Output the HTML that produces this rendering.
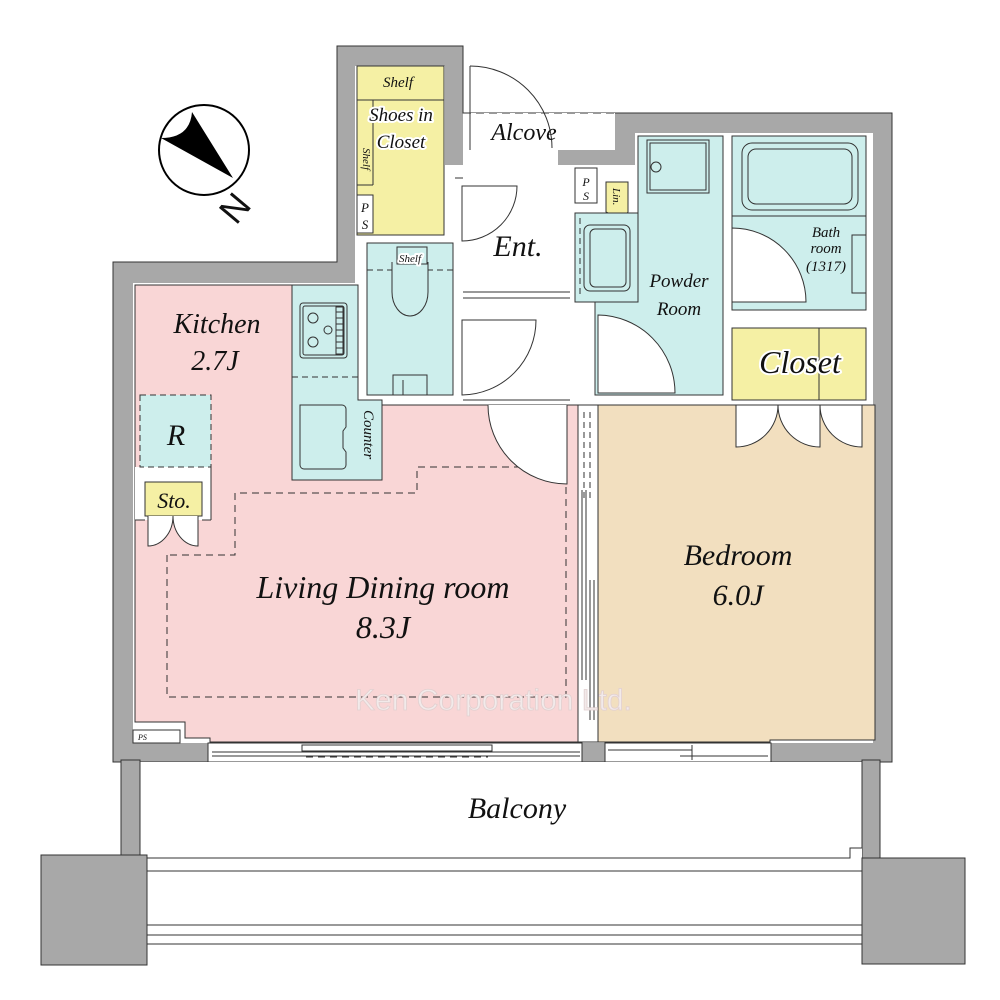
<!DOCTYPE html>
<html><head><meta charset="utf-8"><style>
html,body{margin:0;padding:0;background:#fff;width:1000px;height:1000px;overflow:hidden}
svg{display:block}
text{font-family:"Liberation Serif",serif;font-style:italic;fill:#111}
.h{stroke:#fff;stroke-width:4;paint-order:stroke;stroke-linejoin:round}
</style></head><body>
<svg width="1000" height="1000" viewBox="0 0 1000 1000" xmlns="http://www.w3.org/2000/svg">
<g stroke="#333" stroke-width="1">
<polygon points="337,46 463,46 463,113 615,113 892,113 892,762 113,762 113,262 337,262" fill="#a8a8a8"/>
<g fill="#fff" stroke="none">
<rect x="355" y="66" width="90" height="220"/>
<rect x="355" y="165" width="215" height="240"/>
<rect x="463" y="113" width="152" height="37"/>
<rect x="463" y="150" width="95" height="16"/>
<rect x="635" y="133" width="238" height="272"/>
<rect x="570" y="165" width="66" height="240"/>
<rect x="133" y="283" width="740" height="460"/>
</g>
<line x1="463" y1="113" x2="615" y2="113" stroke-dasharray="8,5"/>
<rect x="208" y="743" width="374" height="19" fill="#fff"/>
<rect x="605" y="743" width="166" height="19" fill="#fff"/>
<line x1="212" y1="752" x2="580" y2="752"/><line x1="212" y1="756" x2="580" y2="756"/>
<rect x="302" y="745" width="190" height="6" fill="#fff"/>
<line x1="306" y1="757" x2="488" y2="757" stroke-dasharray="7,5"/>
<line x1="608" y1="750" x2="692" y2="750"/><line x1="680" y1="756" x2="768" y2="756"/>
<line x1="692" y1="745" x2="692" y2="760"/>
<rect x="121" y="760" width="19" height="96" fill="#a8a8a8"/>
<rect x="862" y="760" width="18" height="100" fill="#a8a8a8"/>
<rect x="140" y="762" width="722" height="96" fill="#fff" stroke="none"/>
<line x1="140" y1="762" x2="140" y2="858"/><line x1="862" y1="762" x2="862" y2="848"/>
<polyline points="147,858 850,858 850,848 862,848" fill="none"/>
<line x1="147" y1="871" x2="862" y2="871"/>
<line x1="147" y1="925" x2="862" y2="925"/>
<line x1="147" y1="935" x2="862" y2="935"/>
<line x1="147" y1="944" x2="862" y2="944"/>
<rect x="41" y="855" width="106" height="110" fill="#a8a8a8"/>
<rect x="862" y="858" width="103" height="106" fill="#a8a8a8"/>

<polygon points="135,285 292,285 292,480 382,480 382,405 578,405 578,742 210,742 210,738 185,738 185,722 135,722" fill="#f9d6d6"/>
<rect x="133" y="730" width="47" height="13" fill="#fff"/>
<polygon points="598,405 875,405 875,740 770,740 770,742 598,742" fill="#f2dfbf"/>
<rect x="578" y="405" width="20" height="337" fill="#fff"/>
<line x1="584" y1="412" x2="584" y2="500" stroke-dasharray="6,4"/><line x1="590" y1="412" x2="590" y2="500" stroke-dasharray="6,4"/>
<line x1="582" y1="490" x2="582" y2="680"/><line x1="586" y1="490" x2="586" y2="680"/>
<line x1="590" y1="580" x2="590" y2="720"/><line x1="594" y1="580" x2="594" y2="720"/>

<polygon points="292,285 358,285 358,400 382,400 382,480 292,480" fill="#cdeeec"/>
<rect x="300" y="303" width="47" height="55" rx="3" fill="#cdeeec"/>
<rect x="303" y="306" width="41" height="49" rx="2" fill="none"/>
<rect x="336" y="307" width="7" height="47" fill="none"/>
<line x1="336" y1="312" x2="343" y2="312"/><line x1="336" y1="318" x2="343" y2="318"/><line x1="336" y1="324" x2="343" y2="324"/><line x1="336" y1="330" x2="343" y2="330"/><line x1="336" y1="336" x2="343" y2="336"/><line x1="336" y1="342" x2="343" y2="342"/><line x1="336" y1="348" x2="343" y2="348"/>
<circle cx="313" cy="318" r="5" fill="none"/><circle cx="328" cy="330" r="4" fill="none"/><circle cx="313" cy="342" r="5" fill="none"/>
<line x1="292" y1="377" x2="358" y2="377" stroke-dasharray="6,4"/>
<path d="M300,405 h42 a4,4 0 0 1 4,4 v18 l-3,4 v17 l3,4 v13 a4,4 0 0 1 -4,4 h-38 a4,4 0 0 1 -4,-4 z" fill="none"/>
<rect x="135" y="467" width="76" height="53" fill="#fff" stroke="none"/>
<line x1="211" y1="467" x2="211" y2="520"/><line x1="135" y1="520" x2="145" y2="520"/><line x1="202" y1="520" x2="211" y2="520"/>
<rect x="140" y="395" width="71" height="72" fill="#cdeeec" stroke-dasharray="6,4"/>
<rect x="145" y="482" width="57" height="34" fill="#f5f0a4"/>
<path d="M148,516 V546 A25,30 0 0 0 173,516" fill="#fff"/>
<path d="M198,516 V546 A25,30 0 0 1 173,516" fill="#fff"/>
<polyline points="167,555 167,697 566,697 566,467 417,467 417,493 235,493 235,555 167,555" fill="none" stroke-dasharray="7,5"/>
<path d="M488,405 A79,79 0 0 0 567,484 V405" fill="#fff"/>

<rect x="357" y="66" width="87" height="169" fill="#f5f0a4"/>
<line x1="357" y1="100" x2="444" y2="100"/>
<line x1="373" y1="100" x2="373" y2="185"/><line x1="357" y1="185" x2="373" y2="185"/>
<rect x="357" y="195" width="16" height="38" fill="#fff"/>
<rect x="367" y="243" width="86" height="152" fill="#cdeeec"/>
<line x1="367" y1="270" x2="453" y2="270" stroke-dasharray="6,4"/>
<path d="M392,262 v30 a18,24 0 0 0 36,0 v-30" fill="#cdeeec"/>
<rect x="397" y="247" width="30" height="17" fill="#cdeeec"/>
<rect x="393" y="375" width="34" height="20" fill="none"/><line x1="403" y1="380" x2="403" y2="395"/>
<path d="M517,186 A55,55 0 0 1 462,241 V186 Z" fill="#fff"/>
<line x1="455" y1="178" x2="463" y2="178"/>
<line x1="463" y1="292" x2="570" y2="292"/><line x1="463" y1="298" x2="570" y2="298"/>
<path d="M536,320 A75,75 0 0 1 462,395 V320 Z" fill="#fff"/>
<line x1="463" y1="400" x2="570" y2="400"/>
<path d="M470,66 A82,82 0 0 1 552,148" fill="none"/><line x1="470" y1="66" x2="470" y2="150"/>

<rect x="575" y="168" width="22" height="35" fill="#fff"/>
<polygon points="606,182 628,182 628,212 622,220 606,212" fill="#f5f0a4"/>
<rect x="575" y="213" width="63" height="89" fill="#cdeeec"/>
<rect x="584" y="225" width="46" height="66" rx="6" fill="none"/>
<rect x="590" y="229" width="36" height="58" rx="5" fill="none"/>
<line x1="580" y1="218" x2="580" y2="298" stroke-dasharray="6,4"/>
<polygon points="638,136 723,136 723,395 595,395 595,302 638,302" fill="#cdeeec"/>
<path d="M598,315 A78,78 0 0 1 675,393 H598 Z" fill="#fff"/>
<rect x="647" y="140" width="62" height="53" fill="none"/><rect x="650" y="143" width="56" height="47" fill="none"/>
<circle cx="656" cy="167" r="5" fill="none"/>
<rect x="732" y="136" width="134" height="174" fill="#cdeeec"/>
<rect x="742" y="143" width="116" height="67" rx="10" fill="none"/>
<rect x="748" y="149" width="104" height="55" rx="8" fill="none"/>
<line x1="732" y1="216" x2="866" y2="216"/>
<rect x="852" y="235" width="14" height="58" fill="none"/>
<path d="M732,228 A74,74 0 0 1 806,302 H732 Z" fill="#fff"/>
<rect x="732" y="328" width="134" height="72" fill="#f5f0a4"/>
<line x1="819" y1="328" x2="819" y2="400"/>
<path d="M736,405 v42 a42,42 0 0 0 42,-42 Z" fill="#fff"/>
<path d="M778,405 a42,42 0 0 0 42,42 v-42 Z" fill="#fff"/>
<path d="M820,405 a42,42 0 0 0 42,42 v-42 Z" fill="#fff"/>
</g>

<circle cx="204" cy="150" r="45" fill="#fff" stroke="#000" stroke-width="2"/>
<path d="M161,138 Q190,138 192,112 L233,178 Z" fill="#000"/>
<text x="0" y="0" transform="translate(236,226) rotate(-50)" style="font-style:normal;font-family:'Liberation Sans',sans-serif;font-size:36px">N</text>

<text x="398" y="87" font-size="15" text-anchor="middle">Shelf</text>
<text x="401" y="121" font-size="19" text-anchor="middle" class="h">Shoes in</text>
<text x="401" y="148" font-size="19" text-anchor="middle" class="h">Closet</text>
<text x="0" y="0" font-size="11" transform="translate(363,148) rotate(90)">Shelf</text>
<text x="365" y="212" font-size="13" text-anchor="middle">P</text><text x="365" y="229" font-size="13" text-anchor="middle">S</text>
<text x="410" y="262" font-size="11" text-anchor="middle" class="h">Shelf</text>
<text x="524" y="140" font-size="24" text-anchor="middle">Alcove</text>
<text x="518" y="256" font-size="30" text-anchor="middle">Ent.</text>
<text x="586" y="186" font-size="12" text-anchor="middle">P</text><text x="586" y="200" font-size="12" text-anchor="middle">S</text>
<text x="0" y="0" font-size="11" transform="translate(613,188) rotate(90)">Lin.</text>
<text x="679" y="287" font-size="19" text-anchor="middle">Powder</text>
<text x="679" y="315" font-size="19" text-anchor="middle">Room</text>
<text x="826" y="237" font-size="15" text-anchor="middle">Bath</text>
<text x="826" y="253" font-size="15" text-anchor="middle">room</text>
<text x="826" y="271" font-size="15" text-anchor="middle">(1317)</text>
<text x="800" y="373" font-size="32" text-anchor="middle" class="h">Closet</text>
<text x="217" y="333" font-size="28" text-anchor="middle">Kitchen</text>
<text x="215" y="370" font-size="28" text-anchor="middle">2.7J</text>
<text x="176" y="445" font-size="30" text-anchor="middle">R</text>
<text x="174" y="508" font-size="22" text-anchor="middle">Sto.</text>
<text x="0" y="0" font-size="15" transform="translate(364,410) rotate(90)">Counter</text>
<text x="383" y="598" font-size="32" text-anchor="middle">Living Dining room</text>
<text x="383" y="638" font-size="32" text-anchor="middle">8.3J</text>
<text x="738" y="565" font-size="30" text-anchor="middle">Bedroom</text>
<text x="738" y="605" font-size="30" text-anchor="middle">6.0J</text>
<text x="517" y="818" font-size="30" text-anchor="middle">Balcony</text>
<text x="355" y="710" font-size="30" style="font-style:normal;font-family:'Liberation Sans',sans-serif;fill:#f2eaea;stroke:#e2d0d0;stroke-width:0.8">Ken Corporation Ltd.</text>
<text x="138" y="740" font-size="8">PS</text>
</svg>
</body></html>
